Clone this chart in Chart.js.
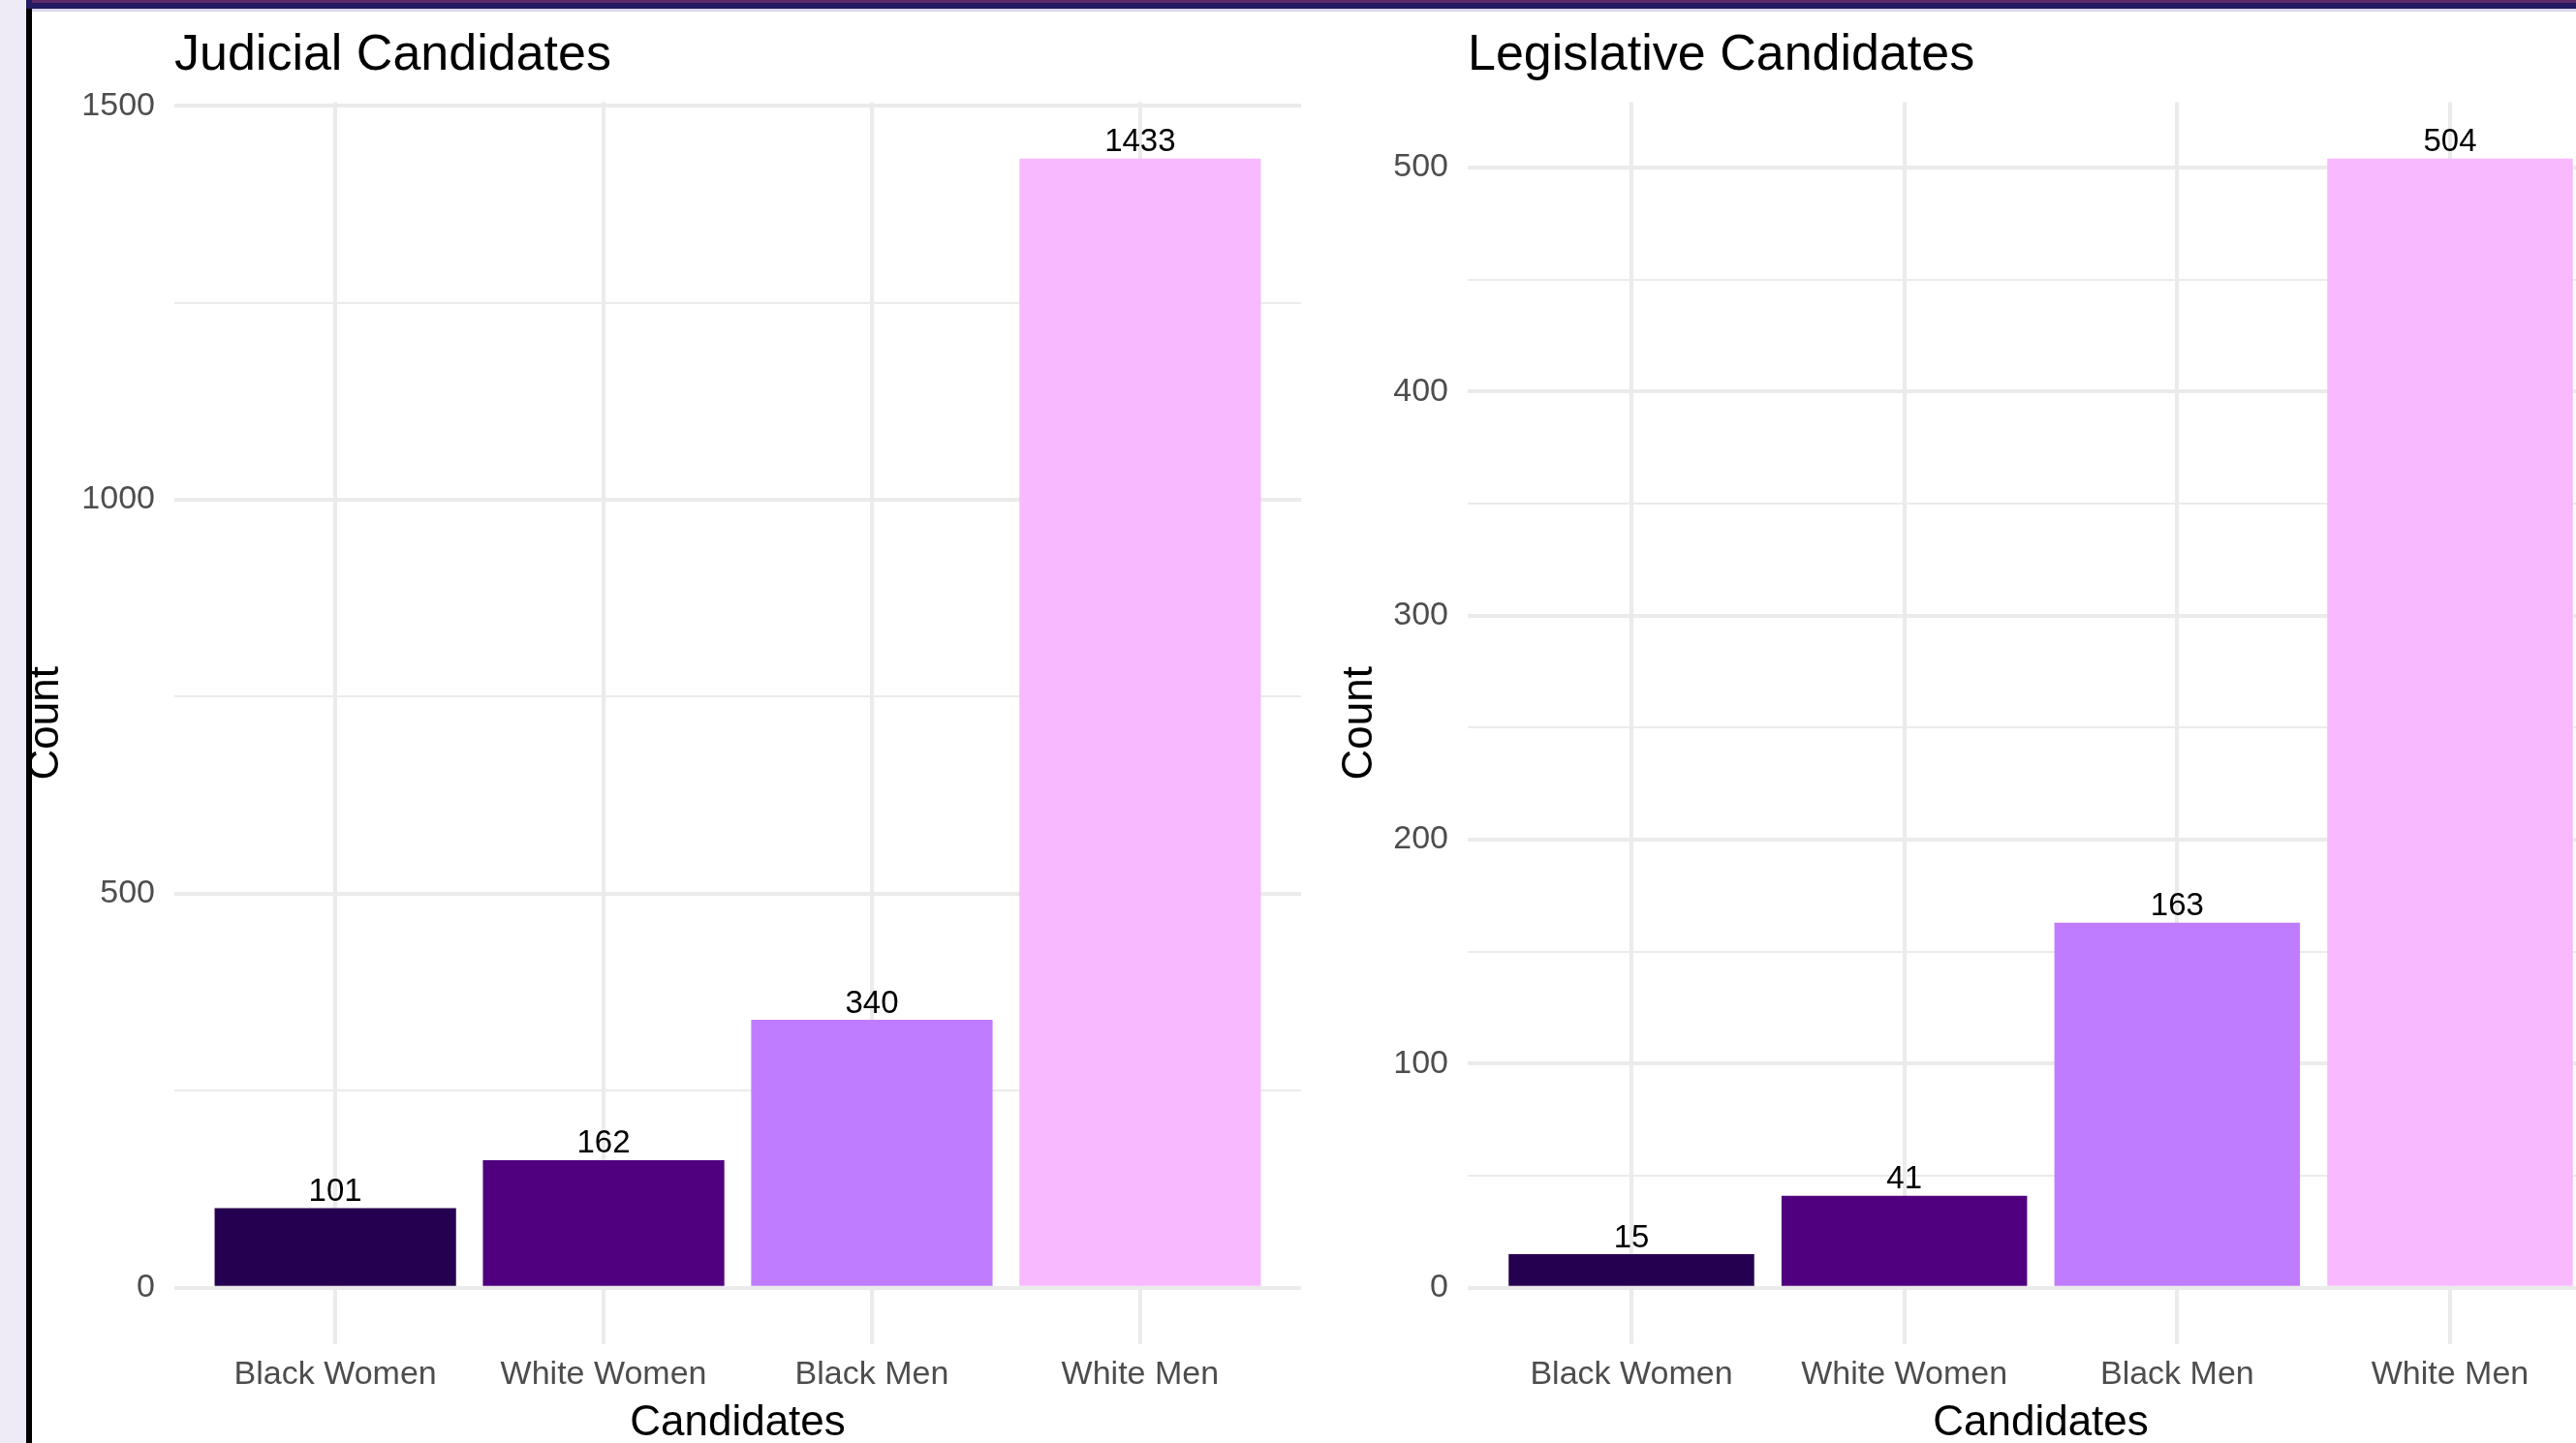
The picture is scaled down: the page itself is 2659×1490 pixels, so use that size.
<!DOCTYPE html>
<html>
<head>
<meta charset="utf-8">
<script src="https://cdn.jsdelivr.net/npm/chart.js@4.4.1/dist/chart.umd.min.js"></script>
<style>
  html, body { margin: 0; padding: 0; width: 2659px; height: 1490px; overflow: hidden; background: #fff; }
  .frame { position: absolute; z-index: 2; }
  #leftStrip { left: 0; top: 0; width: 27px; height: 1490px; background: #eeebf6; }
  #leftRule { left: 27px; top: 9px; width: 6px; height: 1481px; background: #000; }
  #topNavy { left: 27px; top: 0; width: 2632px; height: 9px; background: #231a62; }
  #topPurple { left: 33px; top: 0; width: 2626px; height: 3px; background: #5e2a6c; }
  #topLight { left: 33px; top: 9px; width: 2626px; height: 3px; background: #dcd6ee; }
  canvas { position: absolute; top: 0; z-index: 1; }
  #judicialChart { left: 0; }
  #legislativeChart { left: 1360px; }
</style>
</head>
<body>
<div class="frame" id="leftStrip"></div>
<div class="frame" id="leftRule"></div>
<div class="frame" id="topNavy"></div>
<div class="frame" id="topPurple"></div>
<div class="frame" id="topLight"></div>
<canvas id="judicialChart" width="1360" height="1500"></canvas>
<canvas id="legislativeChart" width="1440" height="1500"></canvas>
<script>
const categories = ['Black Women', 'White Women', 'Black Men', 'White Men'];
const judicialCounts = [101, 162, 340, 1433];
const legislativeCounts = [15, 41, 163, 504];
const barColors = ['#260050', '#50007f', '#c07cff', '#f8b9ff'];

const judicialMajorTicks = [0, 500, 1000, 1500];
const judicialMinorTicks = [250, 750, 1250];
const legislativeMajorTicks = [0, 100, 200, 300, 400, 500];
const legislativeMinorTicks = [50, 150, 250, 350, 450];

const FONT = '"Liberation Sans", Arial, Helvetica, sans-serif';

// count labels above the bars (like geom_text)
const valueLabels = {
    id: 'valueLabels',
    afterDatasetsDraw(chart) {
        const ctx = chart.ctx;
        const meta = chart.getDatasetMeta(0);
        ctx.save();
        ctx.font = '33px ' + FONT;
        ctx.fillStyle = '#000';
        ctx.textAlign = 'center';
        ctx.textBaseline = 'alphabetic';
        meta.data.forEach((bar, i) => {
            ctx.fillText(String(chart.data.datasets[0].data[i].y), bar.x, bar.y - 7.5);
        });
        ctx.restore();
    }
};

function buildPanel(canvasId, title, counts, majorTicks, minorTicks, layout) {
    const top = Math.max(...counts);
    const pad = top * 0.05; // ggplot default expansion

    return new Chart(document.getElementById(canvasId), {
        type: 'bar',
        data: {
            datasets: [{
                data: counts.map((v, i) => ({ x: i + 1, y: v })),
                backgroundColor: barColors,
                borderWidth: 0,
                categoryPercentage: 1,
                barPercentage: 0.9
            }]
        },
        options: {
            responsive: false,
            animation: false,
            layout: { padding: { left: 0, top: 0, bottom: 0, right: layout.padRight } },
            plugins: {
                legend: { display: false },
                tooltip: { enabled: false },
                title: {
                    display: true,
                    text: title,
                    align: 'start',
                    fullSize: false,
                    color: '#000',
                    font: { family: FONT, size: 52, weight: 'normal', lineHeight: 1.2 },
                    padding: { top: 26.5, bottom: 16.6 }
                }
            },
            scales: {
                x: {
                    type: 'linear',
                    min: 0.4,
                    max: categories.length + 0.6,
                    offset: false,
                    afterFit: s => { s.height = 112; },
                    afterBuildTicks: s => { s.ticks = categories.map((c, i) => ({ value: i + 1 })); },
                    ticks: {
                        autoSkip: false,
                        maxRotation: 0,
                        padding: 11.5,
                        color: '#4d4d4d',
                        font: { family: FONT, size: 34 },
                        callback: v => categories[v - 1]
                    },
                    grid: { offset: false, color: '#ebebeb', lineWidth: 4, drawTicks: false },
                    border: { display: false },
                    title: {
                        display: true,
                        text: 'Candidates',
                        color: '#000',
                        font: { family: FONT, size: 44, lineHeight: 1.2 },
                        padding: { top: 0, bottom: 3.5 }
                    }
                },
                y: {
                    min: -pad,
                    max: top + pad,
                    afterFit: s => { s.width = layout.axisWidth; },
                    afterBuildTicks: s => {
                        s.ticks = majorTicks.concat(minorTicks).sort((a, b) => a - b).map(v => ({ value: v }));
                    },
                    ticks: {
                        padding: 20,
                        color: '#4d4d4d',
                        font: { family: FONT, size: 34 },
                        callback: v => majorTicks.includes(v) ? String(v) : ''
                    },
                    grid: {
                        color: '#ebebeb',
                        drawTicks: false,
                        lineWidth: c => (c.tick && majorTicks.includes(c.tick.value)) ? 4 : 2
                    },
                    border: { display: false },
                    title: {
                        display: true,
                        text: 'Count',
                        color: '#000',
                        font: { family: FONT, size: 44, lineHeight: 1.2 },
                        padding: { top: layout.yTitlePad, bottom: 0 }
                    }
                }
            }
        },
        plugins: [valueLabels]
    });
}

buildPanel('judicialChart', 'Judicial Candidates', judicialCounts,
    judicialMajorTicks, judicialMinorTicks, { axisWidth: 180, padRight: 17, yTitlePad: 21.6 });
buildPanel('legislativeChart', 'Legislative Candidates', legislativeCounts,
    legislativeMajorTicks, legislativeMinorTicks, { axisWidth: 155, padRight: 102, yTitlePad: 17 });
</script>
</body>
</html>
